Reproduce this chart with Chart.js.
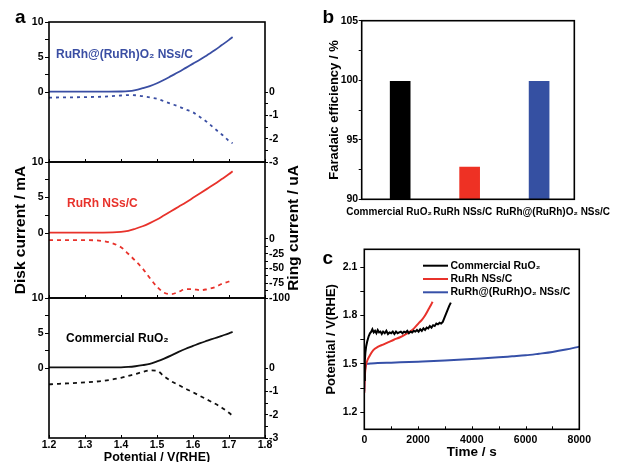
<!DOCTYPE html>
<html>
<head>
<meta charset="utf-8">
<title>RDE, Faradaic efficiency and stability</title>
<script src="https://cdn.jsdelivr.net/npm/chart.js@4.4.0/dist/chart.umd.min.js"></script>
<style>
  html, body { margin: 0; padding: 0; background: #fff; overflow: hidden; }
  #wrap { position: relative; width: 621px; height: 462px; }
  #wrap canvas { position: absolute; left: 0; top: 0; }
</style>
</head>
<body>
<div id="wrap">
  <canvas id="aTop" width="621" height="462"></canvas>
  <canvas id="aMid" width="621" height="462"></canvas>
  <canvas id="aBot" width="621" height="462"></canvas>
  <canvas id="bChart" width="621" height="462"></canvas>
  <canvas id="cChart" width="621" height="462"></canvas>
</div>
<script>
// panel a: RRDE disk / ring currents vs potential
const potential = [1.20, 1.25, 1.30, 1.35, 1.40, 1.42, 1.44, 1.46, 1.48, 1.50, 1.52, 1.54, 1.56, 1.58, 1.60, 1.62, 1.64, 1.66, 1.68, 1.70, 1.71];
const diskRuRhO2 = [0.05, 0.05, 0.05, 0.05, 0.07, 0.12, 0.28, 0.55, 0.85, 1.25, 1.75, 2.3, 2.85, 3.45, 4.05, 4.65, 5.3, 5.95, 6.7, 7.45, 7.85];
const ringRuRhO2 = [-0.24, -0.23, -0.22, -0.2, -0.15, -0.13, -0.14, -0.18, -0.23, -0.29, -0.4, -0.51, -0.62, -0.75, -0.87, -1.08, -1.3, -1.57, -1.82, -2.1, -2.2];
const diskRuRh = [0.05, 0.05, 0.05, 0.05, 0.15, 0.3, 0.6, 0.95, 1.4, 1.9, 2.5, 3.1, 3.7, 4.3, 4.95, 5.6, 6.25, 6.9, 7.6, 8.3, 8.7];
const ringRuRh = [-2, -2, -2, -3.5, -14, -25, -37, -50, -66, -81, -91, -93.5, -89.5, -85, -85, -87, -85, -82, -76, -72, -69];
const diskRuO2 = [0.1, 0.1, 0.1, 0.1, 0.1, 0.15, 0.25, 0.4, 0.6, 0.95, 1.35, 1.8, 2.3, 2.75, 3.15, 3.55, 3.9, 4.25, 4.6, 4.95, 5.15];
const ringRuO2 = [-0.7, -0.66, -0.62, -0.55, -0.42, -0.34, -0.26, -0.17, -0.1, -0.12, -0.36, -0.57, -0.73, -0.89, -1.04, -1.2, -1.36, -1.52, -1.7, -1.92, -2.05];
const potentialTicks = [1.2, 1.3, 1.4, 1.5, 1.6, 1.7, 1.8];
const diskTicks = [0, 2.5, 5, 7.5, 10];
const ringTicks = [0, -0.5, -1, -1.5, -2, -2.5, -3];
const ringTicksRuRh = [0, -12.5, -25, -37.5, -50, -62.5, -75, -87.5, -100];

// panel b: Faradaic efficiency
const catalysts = ['Commercial RuO₂', 'RuRh NSs/C', 'RuRh@(RuRh)O₂ NSs/C'];
const faradaic = [99.9, 92.7, 99.9];
const feTicks = [90, 92.5, 95, 97.5, 100, 102.5, 105];

// panel c: chronopotentiometry
const timeRuO2 = [0, 20, 40, 70, 110, 160, 210, 260, 300, 350, 400, 450, 500, 550, 600, 650, 700, 760, 820, 880, 940, 1000, 1060, 1120, 1180, 1240, 1300, 1360, 1420, 1480, 1540, 1600, 1660, 1720, 1780, 1840, 1900, 1960, 2020, 2080, 2140, 2200, 2260, 2320, 2380, 2440, 2500, 2560, 2620, 2680, 2740, 2800, 2860, 2920, 2980, 3040, 3100, 3160, 3220];
const potRuO2 = [1.40, 1.52, 1.57, 1.61, 1.64, 1.67, 1.69, 1.70, 1.715, 1.695, 1.705, 1.69, 1.71, 1.695, 1.70, 1.685, 1.70, 1.69, 1.705, 1.685, 1.695, 1.69, 1.70, 1.685, 1.70, 1.69, 1.695, 1.70, 1.69, 1.70, 1.695, 1.705, 1.69, 1.70, 1.695, 1.705, 1.70, 1.71, 1.70, 1.715, 1.705, 1.72, 1.71, 1.725, 1.72, 1.735, 1.725, 1.74, 1.735, 1.75, 1.745, 1.755, 1.75, 1.76, 1.785, 1.81, 1.835, 1.86, 1.88];
const timeRuRh = [0, 20, 50, 100, 200, 335, 500, 700, 900, 1100, 1330, 1500, 1700, 1850, 2010, 2150, 2260, 2380, 2480, 2540];
const potRuRh = [1.32, 1.42, 1.48, 1.515, 1.55, 1.585, 1.605, 1.62, 1.635, 1.65, 1.665, 1.68, 1.70, 1.72, 1.75, 1.775, 1.80, 1.835, 1.865, 1.885];
const timeRuRhO2 = [0, 20, 50, 100, 250, 500, 1000, 2000, 3000, 4000, 5000, 5500, 6000, 6500, 7000, 7500, 8000];
const potRuRhO2 = [1.33, 1.44, 1.485, 1.50, 1.503, 1.505, 1.508, 1.514, 1.521, 1.531, 1.541, 1.547, 1.553, 1.563, 1.574, 1.589, 1.607];
const timeTicks = [0, 1000, 2000, 3000, 4000, 5000, 6000, 7000, 8000];
const stabTicks = [1.2, 1.35, 1.5, 1.65, 1.8, 1.95, 2.1];

const BLUE = '#3a4ea3', RED = '#e8322b', BLACK = '#111';
const FONT = '"Liberation Sans", Arial, sans-serif';

Chart.defaults.font.family = FONT;
Chart.defaults.font.weight = 'bold';
Chart.defaults.color = '#000';

// box around every plot area
const frame = {
  id: 'frame',
  afterDatasetsDraw(chart) {
    const a = chart.chartArea, ctx = chart.ctx;
    ctx.save();
    ctx.strokeStyle = '#000';
    ctx.lineWidth = 1.6;
    ctx.strokeRect(a.left, a.top, a.right - a.left, a.bottom - a.top);
    ctx.restore();
  }
};

// small x ticks pointing into the plot
function innerTicks(len) {
  return {
    id: 'innerTicks',
    afterDatasetsDraw(chart) {
      const x = chart.scales.x, a = chart.chartArea, ctx = chart.ctx;
      ctx.save();
      ctx.strokeStyle = '#000';
      ctx.lineWidth = 1;
      x.ticks.forEach(t => {
        const px = Math.round(x.getPixelForValue(t.value)) + 0.5;
        ctx.beginPath();
        ctx.moveTo(px, a.bottom);
        ctx.lineTo(px, a.bottom - len);
        ctx.stroke();
      });
      ctx.restore();
    }
  };
}

// free text (panel letters, sample names)
function notes(items) {
  return {
    id: 'notes',
    afterDraw(chart) {
      const ctx = chart.ctx;
      items.forEach(n => {
        ctx.save();
        ctx.font = 'bold ' + n.size + 'px ' + FONT;
        ctx.fillStyle = n.color || '#000';
        ctx.textBaseline = 'middle';
        ctx.textAlign = n.align || 'left';
        ctx.translate(n.x, n.y);
        if (n.rot) ctx.rotate(n.rot);
        ctx.fillText(n.text, 0, 0);
        ctx.restore();
      });
    }
  };
}

function pts(xs, ys) {
  return xs.map((v, i) => ({ x: v, y: ys[i] }));
}

function tickSet(list) {
  return s => { s.ticks = list.map(v => ({ value: v })); };
}

// one of the three stacked RRDE plots
function rdeChart(id, cfg) {
  const xAxis = {
    type: 'linear', min: 1.2, max: 1.8,
    afterBuildTicks: tickSet(potentialTicks),
    grid: { display: false, drawTicks: false },
    border: { display: false },
    ticks: { display: false },
    afterFit: s => { s.height = 0; }
  };
  if (cfg.xLabels) {
    xAxis.ticks = { display: true, padding: 0.7, font: { size: 10.5 }, autoSkip: false, maxRotation: 0, callback: v => v.toFixed(1) };
    xAxis.title = { display: true, text: 'Potential / V(RHE)', font: { size: 12.5 }, padding: { top: 0, bottom: -3 } };
    xAxis.afterFit = s => { s.height = 24; };
  }
  return new Chart(id, {
    type: 'line',
    data: {
      datasets: [
        { label: 'disk', data: pts(potential, cfg.disk), yAxisID: 'y', borderColor: cfg.color, borderWidth: 1.8, pointRadius: 0, cubicInterpolationMode: 'monotone' },
        { label: 'ring', data: pts(potential, cfg.ring), yAxisID: 'y2', borderColor: cfg.color, borderWidth: 1.8, borderDash: cfg.dash, pointRadius: 0, cubicInterpolationMode: 'monotone' }
      ]
    },
    options: {
      responsive: false, animation: false, devicePixelRatio: 1,
      layout: { padding: { left: 11.7, right: 326, top: cfg.top, bottom: cfg.bottom } },
      plugins: { legend: { display: false }, tooltip: { enabled: false } },
      scales: {
        x: xAxis,
        y: {
          position: 'left', min: cfg.diskMin, max: 10,
          afterBuildTicks: tickSet(diskTicks),
          afterFit: s => { s.width = 37.3; },
          ticks: { autoSkip: false, padding: 1.5, font: { size: 10.5 }, callback: v => (v % 5 === 0 ? v : '') },
          grid: { drawOnChartArea: false, tickLength: 4, color: '#000' },
          border: { display: false },
          title: { display: !!cfg.diskTitle, text: 'Disk current / mA', font: { size: 15.5 }, padding: 0 }
        },
        y2: {
          position: 'right', min: cfg.ringMin, max: cfg.ringMax,
          afterBuildTicks: tickSet(cfg.ringTicks),
          afterFit: s => { s.width = 30; },
          ticks: { autoSkip: false, padding: 1, font: { size: 10.5 }, callback: v => (v % cfg.ringStep === 0 ? v : '') },
          grid: { drawOnChartArea: false, tickLength: 3, color: '#000' },
          border: { display: false }
        }
      }
    },
    plugins: [frame, innerTicks(3), notes(cfg.notes)]
  });
}

rdeChart('aTop', {
  disk: diskRuRhO2, ring: ringRuRhO2, color: BLUE, dash: [3, 4],
  top: 22, bottom: 300, diskMin: -10, ringMin: -3, ringMax: 3, ringTicks: ringTicks, ringStep: 1,
  notes: [
    { text: 'a', x: 15, y: 18, size: 19 },
    { text: 'RuRh@(RuRh)O₂ NSs/C', x: 56, y: 54.5, size: 12, color: BLUE }
  ]
});

rdeChart('aMid', {
  disk: diskRuRh, ring: ringRuRh, color: RED, dash: [4, 4],
  top: 162, bottom: 164, diskMin: -9.15, ringMin: -100, ringMax: 130.5, ringTicks: ringTicksRuRh, ringStep: 25,
  diskTitle: true,
  notes: [
    { text: 'RuRh NSs/C', x: 67, y: 203.5, size: 12, color: RED },
    { text: 'Ring current / uA', x: 294, y: 228, size: 15.5, rot: -Math.PI / 2, align: 'center' }
  ]
});

rdeChart('aBot', {
  disk: diskRuO2, ring: ringRuO2, color: BLACK, dash: [4, 4],
  top: 298, bottom: 0, diskMin: -10, ringMin: -3, ringMax: 3, ringTicks: ringTicks, ringStep: 1,
  xLabels: true,
  notes: [
    { text: 'Commercial RuO₂', x: 66, y: 338.5, size: 12 }
  ]
});

// panel b
const labelCentres = [-0.16, 0.9, 2.2];
new Chart('bChart', {
  type: 'bar',
  data: {
    datasets: [{
      data: pts([0, 1, 2], faradaic),
      backgroundColor: ['#000000', '#ee3124', '#3550a2'],
      barThickness: 20
    }]
  },
  options: {
    responsive: false, animation: false, devicePixelRatio: 1,
    layout: { padding: { left: 326.2, right: 42, top: 20.7, bottom: 242.7 } },
    plugins: { legend: { display: false }, tooltip: { enabled: false } },
    scales: {
      x: {
        type: 'linear', min: -0.554, max: 2.507, offset: false,
        afterBuildTicks: tickSet(labelCentres),
        afterFit: s => { s.height = 20; },
        ticks: { autoSkip: false, maxRotation: 0, padding: 6.7, font: { size: 10 }, callback: (v, i) => catalysts[i] },
        grid: { display: false, drawTicks: false },
        border: { display: false }
      },
      y: {
        min: 90, max: 105, beginAtZero: false,
        afterBuildTicks: tickSet(feTicks),
        afterFit: s => { s.width = 35.5; },
        ticks: { autoSkip: false, padding: 0.5, font: { size: 10.5 }, callback: v => (v % 5 === 0 ? v : '') },
        grid: { drawOnChartArea: false, tickLength: 3, color: '#000' },
        border: { display: false },
        title: { display: true, text: 'Faradaic efficiency / %', font: { size: 13 }, padding: 0 }
      }
    }
  },
  plugins: [frame, notes([{ text: 'b', x: 322.5, y: 18, size: 19 }])]
});

// panel c legend, drawn from the datasets
const stabLegend = {
  id: 'stabLegend',
  afterDraw(chart) {
    const ctx = chart.ctx;
    chart.data.datasets.forEach((ds, i) => {
      const y = 265.7 + i * 13.3;
      ctx.save();
      ctx.strokeStyle = ds.borderColor;
      ctx.lineWidth = 2;
      ctx.beginPath();
      ctx.moveTo(423, y);
      ctx.lineTo(448, y);
      ctx.stroke();
      ctx.font = 'bold 10.5px ' + FONT;
      ctx.fillStyle = '#000';
      ctx.textBaseline = 'middle';
      ctx.fillText(ds.label, 450.5, y);
      ctx.restore();
    });
  }
};

new Chart('cChart', {
  type: 'line',
  data: {
    datasets: [
      { label: 'Commercial RuO₂', data: pts(timeRuO2, potRuO2), borderColor: '#000000', borderWidth: 2, pointRadius: 0, tension: 0 },
      { label: 'RuRh NSs/C', data: pts(timeRuRh, potRuRh), borderColor: RED, borderWidth: 2, pointRadius: 0, cubicInterpolationMode: 'monotone' },
      { label: 'RuRh@(RuRh)O₂ NSs/C', data: pts(timeRuRhO2, potRuRhO2), borderColor: '#3650a8', borderWidth: 2, pointRadius: 0, cubicInterpolationMode: 'monotone' }
    ]
  },
  options: {
    responsive: false, animation: false, devicePixelRatio: 1,
    layout: { padding: { left: 323.2, right: 41.7, top: 249.3, bottom: 1.3 } },
    plugins: { legend: { display: false }, tooltip: { enabled: false } },
    scales: {
      x: {
        type: 'linear', min: 0, max: 8000,
        afterBuildTicks: tickSet(timeTicks),
        afterFit: s => { s.height = 31.4; },
        ticks: { autoSkip: false, maxRotation: 0, padding: 4.4, font: { size: 10.5 }, callback: v => (v % 2000 === 0 ? v : '') },
        grid: { display: false, drawTicks: false },
        border: { display: false },
        title: { display: true, text: 'Time / s', font: { size: 13.5 }, padding: 0 }
      },
      y: {
        min: 1.095, max: 2.21,
        afterBuildTicks: tickSet(stabTicks),
        afterFit: s => { s.width = 41.1; },
        ticks: { autoSkip: false, padding: 3, font: { size: 10.5 }, callback: (v, i) => (i % 2 === 0 ? v.toFixed(1) : '') },
        grid: { drawOnChartArea: false, tickLength: 4, color: '#000' },
        border: { display: false },
        title: { display: true, text: 'Potential / V(RHE)', font: { size: 13 }, padding: 0 }
      }
    }
  },
  plugins: [frame, innerTicks(3), stabLegend, notes([{ text: 'c', x: 322.5, y: 258.5, size: 19 }])]
});
</script>
</body>
</html>
